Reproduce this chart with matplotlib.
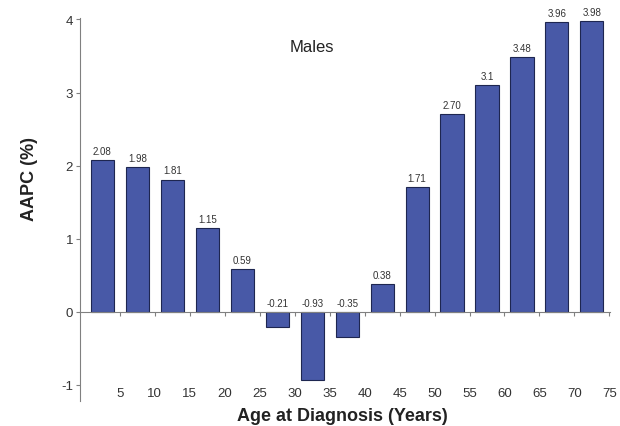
import matplotlib
matplotlib.use("Agg")
import matplotlib.pyplot as plt
import matplotlib.transforms as mtransforms

plt.rcParams['font.family'] = ['Liberation Sans', 'DejaVu Sans']

age_ticks = [5, 10, 15, 20, 25, 30, 35, 40, 45, 50, 55, 60, 65, 70, 75]
aapc = [2.08, 1.98, 1.81, 1.15, 0.59, -0.21, -0.93, -0.35, 0.38, 1.71, 2.70, 3.1, 3.48, 3.96, 3.98]
value_labels = ["2.08", "1.98", "1.81", "1.15", "0.59", "-0.21", "-0.93", "-0.35", "0.38",
                "1.71", "2.70", "3.1", "3.48", "3.96", "3.98"]
y_ticks = [-1, 0, 1, 2, 3, 4]

bar_color = '#4859a7'
edge_color = '#1e2650'
axis_color = '#808080'

fig = plt.figure(figsize=(6.2, 4.27), dpi=100)
ax = fig.add_axes([0.129, 0.0585, 0.855, 0.897])

xpos = list(range(len(aapc)))
ax.bar(xpos, aapc, width=0.66, color=bar_color, edgecolor=edge_color, linewidth=0.8, zorder=2)

ax.set_xlim(-0.64, 14.52)
ax.set_ylim(-1.22, 4.02)

for spine in ['top', 'right']:
    ax.spines[spine].set_visible(False)
ax.spines['bottom'].set_position(('data', 0))
ax.spines['bottom'].set_color(axis_color)
ax.spines['left'].set_color(axis_color)
ax.spines['bottom'].set_zorder(3)

ax.set_xticks([p + 0.5 for p in xpos])
ax.set_xticklabels([])
ax.tick_params(axis='x', direction='out', length=3, color=axis_color)
ax.set_yticks(y_ticks)
ax.set_yticklabels([str(t) for t in y_ticks], fontsize=9.5, color='#333333')
ax.tick_params(axis='y', direction='out', length=3, color=axis_color, pad=2)

trans = mtransforms.blended_transform_factory(ax.transData, ax.transAxes)
for p, lab in zip(xpos, age_ticks):
    ax.text(p + 0.5, 0.021, str(lab), transform=trans, ha='center', va='center',
            fontsize=9.5, color='#333333')

for p, v, lab in zip(xpos, aapc, value_labels):
    ybase = v if v > 0 else 0
    ax.annotate(lab, (p, ybase), xytext=(0, 3), textcoords='offset points',
                ha='center', va='bottom', fontsize=7, color='#333333')

ax.text(6.0, 3.63, 'Males', ha='center', va='center', fontsize=12, color='#222222')

fig.text(0.553, 0.025, 'Age at Diagnosis (Years)', ha='center', va='center',
         fontsize=13, fontweight='bold', color='#222222')
fig.text(0.048, 0.58, 'AAPC (%)', ha='center', va='center', rotation=90,
         fontsize=13, fontweight='bold', color='#222222')

fig.savefig('out.png', dpi=100)
